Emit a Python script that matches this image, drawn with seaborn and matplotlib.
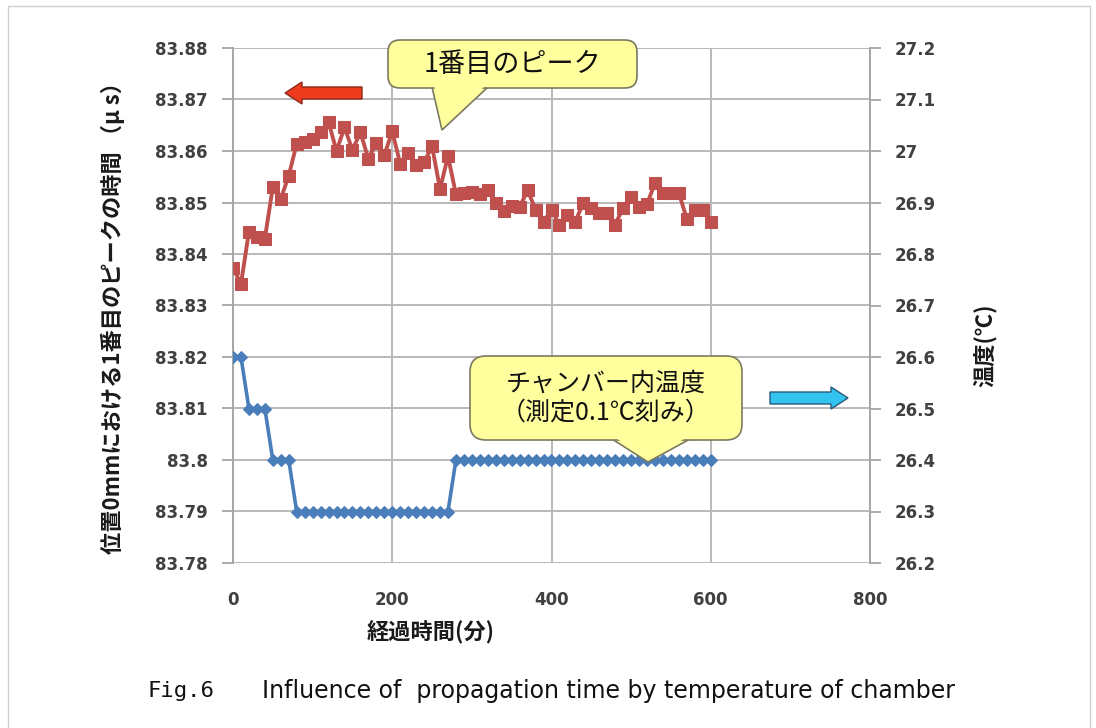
import matplotlib
matplotlib.use("Agg")
import matplotlib.pyplot as plt
import matplotlib.transforms as mtransforms
from matplotlib.patches import FancyBboxPatch, Polygon, FancyArrow, Rectangle
import pandas as pd
import seaborn as sns

# elapsed time (minutes)
minutes = [0, 10, 20, 30, 40, 50, 60, 70, 80, 90,
           100, 110, 120, 130, 140, 150, 160, 170, 180, 190,
           200, 210, 220, 230, 240, 250, 260, 270, 280, 290,
           300, 310, 320, 330, 340, 350, 360, 370, 380, 390,
           400, 410, 420, 430, 440, 450, 460, 470, 480, 490,
           500, 510, 520, 530, 540, 550, 560, 570, 580, 590,
           600]

# arrival time of the first peak at position 0 mm (microseconds)
peak_time_us = [83.8373, 83.8342, 83.8443, 83.8433, 83.8430, 83.8530, 83.8507, 83.8552, 83.8614, 83.8618,
                83.8624, 83.8636, 83.8656, 83.8600, 83.8646, 83.8602, 83.8636, 83.8585, 83.8616, 83.8592,
                83.8638, 83.8575, 83.8597, 83.8572, 83.8578, 83.8609, 83.8526, 83.8590, 83.8516, 83.8519,
                83.8520, 83.8516, 83.8524, 83.8500, 83.8483, 83.8494, 83.8491, 83.8524, 83.8486, 83.8463,
                83.8486, 83.8457, 83.8476, 83.8463, 83.8500, 83.8490, 83.8480, 83.8480, 83.8457, 83.8490,
                83.8510, 83.8492, 83.8497, 83.8538, 83.8518, 83.8518, 83.8518, 83.8468, 83.8485, 83.8485,
                83.8462]

# chamber temperature (0.1 degC resolution)
chamber_temp_c = [26.6, 26.6, 26.5, 26.5, 26.5, 26.4, 26.4, 26.4, 26.3, 26.3,
                  26.3, 26.3, 26.3, 26.3, 26.3, 26.3, 26.3, 26.3, 26.3, 26.3,
                  26.3, 26.3, 26.3, 26.3, 26.3, 26.3, 26.3, 26.3, 26.4, 26.4,
                  26.4, 26.4, 26.4, 26.4, 26.4, 26.4, 26.4, 26.4, 26.4, 26.4,
                  26.4, 26.4, 26.4, 26.4, 26.4, 26.4, 26.4, 26.4, 26.4, 26.4,
                  26.4, 26.4, 26.4, 26.4, 26.4, 26.4, 26.4, 26.4, 26.4, 26.4,
                  26.4]

x_ticks = [0, 200, 400, 600, 800]
x_tick_labels = ["0", "200", "400", "600", "800"]
left_ticks = [83.78, 83.79, 83.80, 83.81, 83.82, 83.83, 83.84, 83.85, 83.86, 83.87, 83.88]
left_tick_labels = ["83.78", "83.79", "83.8", "83.81", "83.82", "83.83",
                    "83.84", "83.85", "83.86", "83.87", "83.88"]
right_ticks = [26.2, 26.3, 26.4, 26.5, 26.6, 26.7, 26.8, 26.9, 27.0, 27.1, 27.2]
right_tick_labels = ["26.2", "26.3", "26.4", "26.5", "26.6", "26.7",
                     "26.8", "26.9", "27", "27.1", "27.2"]

sns.set_style("white")
plt.rcParams["font.family"] = ["DejaVu Sans", "Noto Sans CJK JP"]
JP = ["Noto Sans CJK JP", "DejaVu Sans"]

W, H = 1096, 728
fig = plt.figure(figsize=(W / 100, H / 100), dpi=100)
fig.patch.set_facecolor("white")

# pixel coordinates with the origin at the top-left corner
px = mtransforms.Affine2D().scale(1, -1).translate(0, H)


def fx(x):
    return x / W


def fy(y):
    return 1 - y / H


ax = fig.add_axes([fx(233), fy(563), fx(870) - fx(233), fy(48) - fy(563)])
ax2 = ax.twinx()

df = pd.DataFrame({"minutes": minutes, "peak": peak_time_us, "temp": chamber_temp_c})

sns.lineplot(data=df, x="minutes", y="peak", ax=ax, color="#C0504D",
             marker="s", markersize=8.5, markeredgecolor="#C0504D",
             linewidth=2.8, zorder=3)
sns.lineplot(data=df, x="minutes", y="temp", ax=ax2, color="#4A7EBB",
             marker="D", markersize=6.5, markeredgecolor="#4A7EBB",
             linewidth=2.6, zorder=3)

grid_c = "#b9b9b9"
tick_c = "#404040"

ax.set_xlim(0, 800)
ax.set_ylim(83.78, 83.88)
ax2.set_ylim(26.2, 27.2)

ax.set_xticks(x_ticks)
ax.set_xticklabels(x_tick_labels)
ax.set_yticks(left_ticks)
ax.set_yticklabels(left_tick_labels)
ax2.set_yticks(right_ticks)
ax2.set_yticklabels(right_tick_labels)

ax.set_axisbelow(True)
ax.grid(True, color=grid_c, linewidth=1.4)
ax2.grid(False)

for a in (ax, ax2):
    for s in ("top", "bottom"):
        a.spines[s].set_visible(False)
ax.spines["right"].set_visible(False)
ax.spines["left"].set_color("#a6a6a6")
ax.spines["left"].set_linewidth(1.4)
ax2.spines["left"].set_visible(False)
ax2.spines["right"].set_color("#a6a6a6")
ax2.spines["right"].set_linewidth(1.4)

ax.tick_params(axis="y", direction="out", length=8, width=1.3, color="#a6a6a6",
               labelsize=12, labelcolor=tick_c, pad=10)
ax2.tick_params(axis="y", direction="out", length=8, width=1.3, color="#a6a6a6",
                labelsize=12, labelcolor=tick_c, pad=10)
ax.tick_params(axis="x", length=0, labelsize=12, labelcolor=tick_c, pad=20)
for lab in ax.get_yticklabels() + ax2.get_yticklabels() + ax.get_xticklabels():
    lab.set_fontweight("bold")
ax.set_xlabel("")
ax.set_ylabel("")
ax2.set_ylabel("")

# axis titles
label_c = "#1a1a1a"
fig.text(fx(431), fy(632), "経過時間(分)", family=JP, fontsize=16, fontweight="bold",
         color=label_c, ha="center", va="center")
fig.text(fx(113), fy(312), "位置0mmにおける1番目のピークの時間 （μ s）", family=JP,
         fontsize=16, fontweight="bold", color=label_c, ha="center", va="center",
         rotation=90)
fig.text(fx(985), fy(345), "温度(℃)", family=JP, fontsize=16, fontweight="bold",
         color=label_c, ha="center", va="center", rotation=90)


def callout(x0, y0, x1, y1, base, tip, text, size, rounding):
    fill = "#FFFF9E"
    edge = "#7a7a60"
    tri = [(base[0], y1 - 1), (base[1], y1 - 1), tip]
    fig.patches.append(Polygon(tri, closed=True, fc=fill, ec=edge, lw=1.2,
                               transform=px, zorder=5))
    fig.patches.append(FancyBboxPatch((x0, y0), x1 - x0, y1 - y0,
                                      boxstyle=f"round,pad=0,rounding_size={rounding}",
                                      fc=fill, ec=edge, lw=1.2, transform=px, zorder=6))
    inner = [(base[0] + 2, y1 - 3), (base[1] - 2, y1 - 3),
             (tip[0], tip[1] - 4)]
    fig.patches.append(Polygon(inner, closed=True, fc=fill, ec="none",
                               transform=px, zorder=7))
    fig.text(fx((x0 + x1) / 2), fy((y0 + y1) / 2), text, family=JP, fontsize=size,
             ha="center", va="center", color="#111111", zorder=8, linespacing=1.15)


callout(388, 40, 637, 88, (432, 488), (442, 130), "1番目のピーク", 19.5, 12)
callout(470, 356, 742, 440, (612, 690), (648, 462),
        "チャンバー内温度\n（測定0.1℃刻み）", 18, 16)

# direction arrows pointing to each series' axis
fig.patches.append(FancyArrow(362, 93, -77, 0, width=12, head_width=22, head_length=17,
                              length_includes_head=True, fc="#F03C1E", ec="#8c2a1a",
                              lw=1.0, transform=px, zorder=6))
fig.patches.append(FancyArrow(770, 398, 78, 0, width=12, head_width=22, head_length=17,
                              length_includes_head=True, fc="#33C3F0", ec="#2a5a78",
                              lw=1.0, transform=px, zorder=6))

# outer frame
fig.patches.append(Rectangle((8, 6), 1082, 760, fill=False, ec="#d0d0d0", lw=1.0,
                             transform=px, zorder=1))

fig.text(fx(148), fy(691), "Fig.6", family=["DejaVu Sans Mono", "DejaVu Sans"],
         fontsize=16, ha="left", va="center", color="#111111")
fig.text(fx(262), fy(691), "Influence of  propagation time by temperature of chamber",
         family=["Liberation Sans Narrow", "DejaVu Sans"], fontsize=17,
         ha="left", va="center", color="#111111")

fig.savefig("out.png", dpi=100, facecolor="white")
